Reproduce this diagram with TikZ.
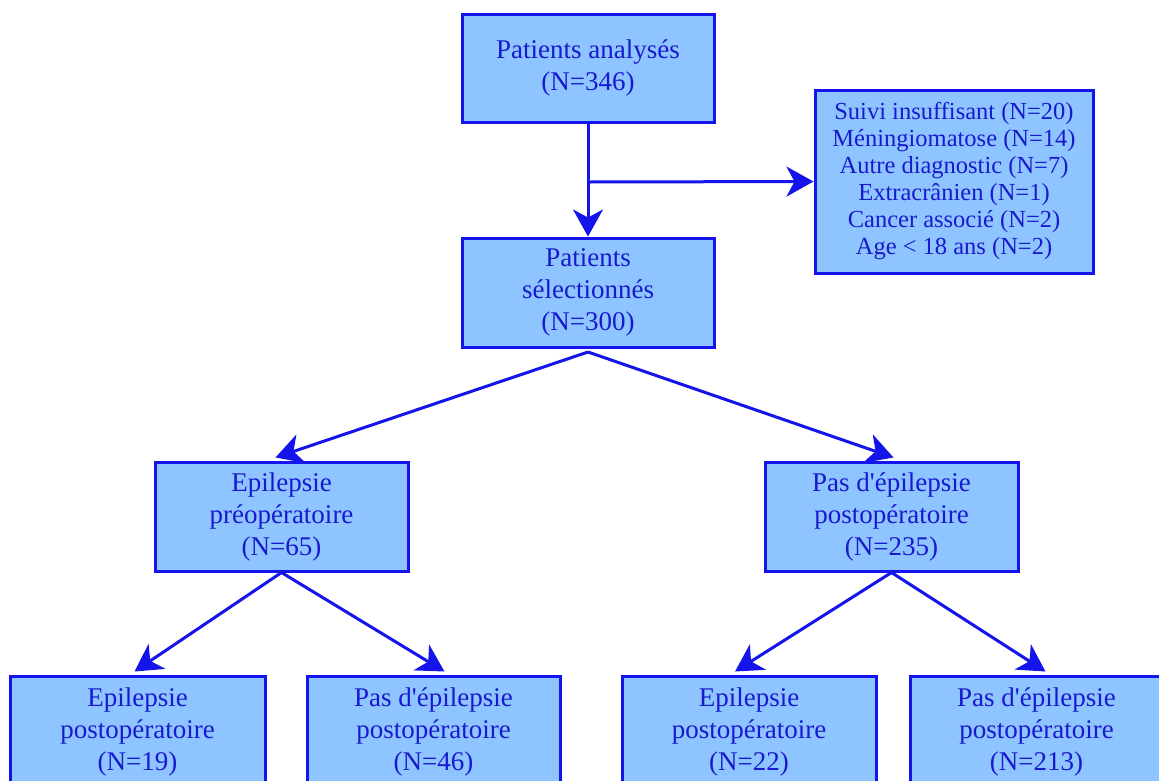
\documentclass[tikz,border=0pt]{standalone}
\usepackage{fontspec}
\setmainfont{Liberation Serif}
\usetikzlibrary{arrows.meta,calc}
\definecolor{boxfill}{RGB}{142,196,255}
\definecolor{boxline}{RGB}{20,20,235}
\definecolor{txt}{RGB}{25,25,205}
\newcommand{\apos}{\textquotesingle}
\tikzset{
  box/.style={draw=boxline, line width=3pt, fill=boxfill, text=txt, align=center,
    inner sep=0pt, font=\fontsize{27}{32}\selectfont},
  sidebox/.style={box, font=\fontsize{24.5}{27}\selectfont},
  arr/.style={draw=boxline, line width=3pt, -{Stealth[length=27pt,width=30pt,inset=8pt]}},
  ln/.style={draw=boxline, line width=3pt}
}
\begin{document}
\begin{tikzpicture}[x=1pt,y=-1pt]
\useasboundingbox (0,0) rectangle (1159,780);
\clip (0,0) rectangle (1159,780);
\node[box, minimum width=252pt, minimum height=108pt] (top) at (588,68) {Patients analysés\\(N=346)};
\node[sidebox, minimum width=278pt, minimum height=183pt] (side) at (954,181.5) {Suivi insuffisant (N=20)\\Méningiomatose (N=14)\\Autre diagnostic (N=7)\\Extracrânien (N=1)\\Cancer associé (N=2)\\Age < 18 ans (N=2)};
\node[box, minimum width=252pt, minimum height=109pt] (sel) at (588,292.5) {Patients\\sélectionnés\\(N=300)};
\node[box, minimum width=253pt, minimum height=109pt] (pre) at (281.5,516.5) {Epilepsie\\préopératoire\\(N=65)};
\node[box, minimum width=253pt, minimum height=109pt] (nopre) at (891.5,516.5) {Pas d\apos épilepsie\\postopératoire\\(N=235)};
\node[box, minimum width=255pt, minimum height=112pt] (a) at (137.5,732) {Epilepsie\\postopératoire\\(N=19)};
\node[box, minimum width=253pt, minimum height=112pt] (b) at (433.5,732) {Pas d\apos épilepsie\\postopératoire\\(N=46)};
\node[box, minimum width=254pt, minimum height=112pt] (c) at (749,732) {Epilepsie\\postopératoire\\(N=22)};
\node[box, minimum width=253pt, minimum height=112pt] (d) at (1036.5,732) {Pas d\apos épilepsie\\postopératoire\\(N=213)};
\coordinate (j) at (588,182);
\coordinate (s) at (588,352);
\draw[arr] (top.south) -- (sel.north);
\draw[arr] (j) -- (side.west);
\draw[arr] (s) -- ($(pre.north)+(-6,-3)$);
\draw[arr] (s) -- ($(nopre.north)+(2,-3)$);
\draw[arr] (pre.south) -- ($(a.north)+(-3,-3)$);
\draw[arr] (pre.south) -- ($(b.north)+(11,-3)$);
\draw[arr] (nopre.south) -- ($(c.north)+(-14,-3)$);
\draw[arr] (nopre.south) -- ($(d.north)+(9,-3)$);
\end{tikzpicture}
\end{document}
